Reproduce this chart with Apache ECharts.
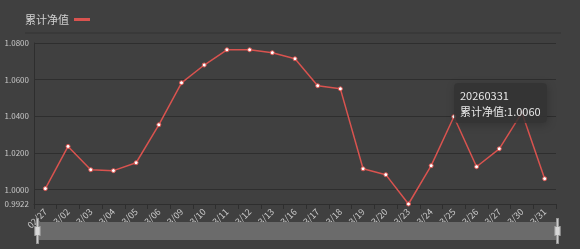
<!DOCTYPE html>
<html><head><meta charset="utf-8">
<script src="https://cdn.jsdelivr.net/npm/echarts@6/dist/echarts.min.js"></script>
<style>html,body{margin:0;padding:0;background:#404040;}#c{width:580px;height:249px;}</style>
</head><body><div id="c"></div>
<script>
var dates = ['20260227','20260302','20260303','20260304','20260305','20260306','20260309','20260310','20260311','20260312','20260313','20260316','20260317','20260318','20260319','20260320','20260323','20260324','20260325','20260326','20260327','20260330','20260331'];
var navValues = [1.0006,1.0236,1.0109,1.0104,1.0147,1.0354,1.0583,1.0680,1.0763,1.0763,1.0747,1.0714,1.0567,1.0550,1.0114,1.0082,0.9922,1.0131,1.0398,1.0125,1.0223,1.0420,1.0060];
var seriesName = '累计净值';
var yMin = 0.9922, yMax = 1.08;

var font = 'Noto Sans CJK SC';
var chart = echarts.init(document.getElementById('c'), null, {renderer:'canvas'});
chart.setOption({
  backgroundColor:'#404040',
  animation:false,
  textStyle:{fontFamily:font},
  legend:{left:20, top:9, align:'right', itemWidth:16, itemHeight:3, icon:'rect', itemGap:6,
    itemStyle:{borderWidth:0, color:'#d9534f'},
    textStyle:{color:'#d0d0d0', fontSize:11, fontFamily:font}, data:[seriesName]},
  graphic:[{type:'line', shape:{x1:25,y1:33,x2:561,y2:33}, style:{stroke:'#333333', lineWidth:1}, silent:true}],
  grid:{left:34, right:24, top:43, bottom:45},
  tooltip:{trigger:'axis', transitionDuration:0, axisPointer:{type:'none'},
    backgroundColor:'rgba(50,50,50,0.85)', borderWidth:0, padding:[4,6],
    textStyle:{color:'#e8e8e8', fontSize:11, fontFamily:font, lineHeight:16},
    position:function(){return [454,83];},
    formatter:function(p){return dates[p[0].dataIndex]+'<br/>'+seriesName+':'+p[0].value.toFixed(4);}
  },
  xAxis:{type:'category', data:dates, boundaryGap:true,
    axisLine:{lineStyle:{color:'#2e2e2e'}},
    axisTick:{show:true, lineStyle:{color:'#2e2e2e'}},
    axisLabel:{color:'#c8c8c8', fontSize:9, rotate:45, interval:0, margin:6,
      formatter:function(v){return v.slice(4,6)+'/'+v.slice(6,8);}}
  },
  yAxis:{type:'value', min:yMin, max:yMax, splitNumber:5,
    axisLine:{show:true, lineStyle:{color:'#2e2e2e'}},
    axisTick:{show:false},
    splitLine:{lineStyle:{color:'#2e2e2e'}},
    axisLabel:{color:'#c8c8c8', fontSize:8, margin:5, showMinLabel:true, showMaxLabel:true,
      formatter:function(v){return v.toFixed(4);}}
  },
  dataZoom:[{type:'slider', xAxisIndex:0, start:0, end:100, left:34, right:24, bottom:9, height:18,
    showDetail:false, brushSelect:false, backgroundColor:'#5a5a5a', fillerColor:'#6b6b6b',
    borderColor:'transparent', dataBackground:{lineStyle:{opacity:0}, areaStyle:{opacity:0}},
    selectedDataBackground:{lineStyle:{opacity:0}, areaStyle:{opacity:0}},
    moveHandleSize:0,
    handleIcon:'path://M-1,-14 L1,-14 L1,-5 L3,-5 L3,5 L1,5 L1,14 L-1,14 L-1,5 L-3,5 L-3,-5 L-1,-5 Z',
    handleSize:'140%', handleStyle:{color:'#d8d8d8', borderColor:'#999'}
  }],
  series:[{name:seriesName, type:'line', data:navValues, symbol:'circle', symbolSize:4,
    emphasis:{disabled:true, scale:false},
    lineStyle:{color:'#d9534f', width:1.5}, itemStyle:{color:'#ffffff', borderColor:'#d9534f', borderWidth:1},
    color:'#d9534f'}]
});
chart.dispatchAction({type:'showTip', seriesIndex:0, dataIndex:22});
</script></body></html>
